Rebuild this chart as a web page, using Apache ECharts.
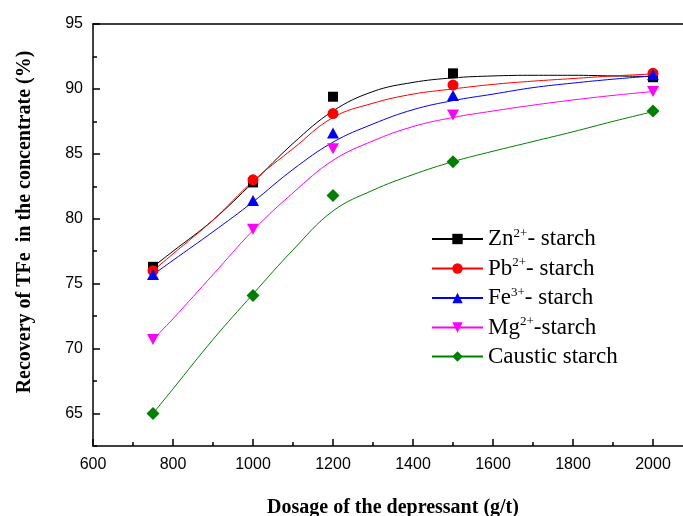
<!DOCTYPE html>
<html>
<head>
<meta charset="utf-8">
<script src="https://cdn.jsdelivr.net/npm/echarts@6/dist/echarts.min.js"></script>
<style>
html,body{margin:0;padding:0;background:#fff;}
#chart{width:683px;height:516px;}
</style>
</head>
<body>
<div id="chart"></div>
<script>
// ---- measured points ----
const dosage = [750, 1000, 1200, 1500, 2000];
const znStarch = [76.3, 82.8, 89.4, 91.2, 90.9];
const pbStarch = [76.0, 83.0, 88.1, 90.3, 91.2];
const feStarch = [75.7, 81.4, 86.6, 89.5, 91.1];
const mgStarch = [70.7, 79.2, 85.4, 88.0, 89.8];
const causticStarch = [65.0, 74.1, 81.8, 84.4, 88.3];

// ---- fitted curves ----
const fitDosage = [750, 800, 900, 1000, 1100, 1200, 1300, 1400, 1500, 1600, 1700, 1800, 1900, 2000];
const znFit = [76.3, 77.5, 79.9, 82.8, 85.8, 88.3, 89.8, 90.5, 90.85, 91.0, 91.05, 91.05, 91.0, 90.95];
const pbFit = [76.0, 77.3, 79.9, 82.9, 85.4, 87.8, 88.9, 89.6, 90.0, 90.35, 90.6, 90.8, 91.0, 91.15];
const feFit = [75.7, 76.8, 79.0, 81.3, 83.8, 85.9, 87.3, 88.4, 89.1, 89.6, 90.1, 90.45, 90.75, 91.0];
const mgFit = [70.7, 72.3, 75.7, 79.1, 82.0, 84.5, 86.0, 87.1, 87.8, 88.3, 88.75, 89.15, 89.5, 89.8];
const causticFit = [65.0, 66.9, 70.7, 74.2, 77.6, 80.6, 82.2, 83.4, 84.4, 85.2, 85.95, 86.7, 87.5, 88.25];

// ---- axis ticks ----
const xTickLabels = [600, 800, 1000, 1200, 1400, 1600, 1800, 2000];
const yTickLabels = [65, 70, 75, 80, 85, 90, 95];

// ---- series labels ----
const seriesNames = ['Zn2+- starch', 'Pb2+- starch', 'Fe3+- starch', 'Mg2+-starch', 'Caustic starch'];
const labelBase = ['Zn', 'Pb', 'Fe', 'Mg', 'Caustic starch'];
const labelSup = ['2+', '2+', '3+', '2+', ''];
const labelTail = ['- starch', '- starch', '- starch', '-starch', ''];

const colors = ['#000000', '#ff0000', '#0000ff', '#ff00ff', '#008000'];
const symbols = ['rect', 'circle', 'triangle', 'triangle', 'diamond'];
const symbolRot = [0, 0, 0, 180, 0];
const symbolSizes = [10, 11, [12, 11], [12, 11], 13];

const pointSets = [znStarch, pbStarch, feStarch, mgStarch, causticStarch];
const fitSets = [znFit, pbFit, feFit, mgFit, causticFit];

const series = [];
seriesNames.forEach((name, k) => {
  series.push({
    name: name,
    type: 'line',
    smooth: 0.4,
    showSymbol: false,
    symbol: symbols[k],
    symbolRotate: symbolRot[k],
    data: fitDosage.map((x, i) => [x, fitSets[k][i]]),
    lineStyle: { color: colors[k], width: 1 },
    itemStyle: { color: colors[k] },
    emphasis: { disabled: true },
    z: 2
  });
});
seriesNames.forEach((name, k) => {
  series.push({
    name: name,
    type: 'scatter',
    symbol: symbols[k],
    symbolRotate: symbolRot[k],
    symbolSize: symbolSizes[k],
    data: dosage.map((x, i) => [x, pointSets[k][i]]),
    itemStyle: { color: colors[k], opacity: 1 },
    emphasis: { disabled: true },
    z: 3
  });
});

const serif = 'Liberation Serif';
const sans = 'Liberation Sans';
const plain = v => String(v);

const option = {
  animation: false,
  backgroundColor: '#ffffff',
  grid: { left: 93, width: 600, top: 24, bottom: 70, containLabel: false, outerBoundsMode: 'none' },
  legend: {
    orient: 'vertical',
    left: 426,
    top: 222,
    padding: 5,
    itemWidth: 51,
    itemHeight: 13,
    itemGap: 6,
    data: seriesNames,
    selectedMode: false,
    formatter: function (name) {
      const k = seriesNames.indexOf(name);
      let s = '{n|' + labelBase[k] + '}';
      if (labelSup[k]) s += '{s|' + labelSup[k] + '}';
      if (labelTail[k]) s += '{n|' + labelTail[k] + '}';
      return s;
    },
    textStyle: {
      padding: [0, 0, 0, 0],
      rich: {
        n: { fontSize: 23, fontFamily: serif, color: '#000', lineHeight: 24 },
        s: { fontSize: 13, fontFamily: serif, color: '#000', lineHeight: 13, verticalAlign: 'top' }
      }
    }
  },
  xAxis: [
    {
      type: 'value', min: 600, max: 2100, interval: 200, position: 'bottom',
      axisLine: { onZero: false, lineStyle: { color: '#000', width: 1.5 } },
      axisTick: { inside: true, length: 7, customValues: xTickLabels, lineStyle: { color: '#000', width: 1.5 } },
      axisLabel: { customValues: xTickLabels, formatter: plain, fontSize: 16, color: '#000', fontFamily: sans, margin: 11 },
      splitLine: { show: false },
      name: 'Dosage of the depressant (g/t)',
      nameLocation: 'middle',
      nameGap: 52,
      nameTextStyle: { fontSize: 20, fontWeight: 'bold', fontFamily: serif, color: '#000' }
    },
    {
      type: 'value', min: 600, max: 2100, interval: 100, position: 'bottom',
      axisLine: { show: false, onZero: false },
      axisTick: { inside: true, length: 4, lineStyle: { color: '#000', width: 1.5 } },
      axisLabel: { show: false },
      splitLine: { show: false }
    },
    {
      type: 'value', min: 600, max: 2100, position: 'top',
      axisLine: { show: true, onZero: false, lineStyle: { color: '#000', width: 1.5 } },
      axisTick: { show: false },
      axisLabel: { show: false },
      splitLine: { show: false }
    }
  ],
  yAxis: [
    {
      type: 'value', min: 62.5, max: 95, position: 'left',
      axisLine: { show: true, onZero: false, lineStyle: { color: '#000', width: 1.5 } },
      axisTick: { inside: true, length: 7, customValues: yTickLabels, lineStyle: { color: '#000', width: 1.5 } },
      axisLabel: { customValues: yTickLabels, formatter: plain, fontSize: 16, color: '#000', fontFamily: sans, margin: 10 },
      splitLine: { show: false },
      name: 'Recovery of TFe  in the concentrate (%)',
      nameLocation: 'middle',
      nameRotate: 90,
      nameGap: 58,
      nameTextStyle: { fontSize: 20, fontWeight: 'bold', fontFamily: serif, color: '#000', padding: [0, 0, 0, 26] }
    },
    {
      type: 'value', min: 62.5, max: 95, interval: 2.5, position: 'left',
      axisLine: { show: false, onZero: false },
      axisTick: { inside: true, length: 4, lineStyle: { color: '#000', width: 1.5 } },
      axisLabel: { show: false },
      splitLine: { show: false }
    }
  ],
  series: series
};

const chart = echarts.init(document.getElementById('chart'), null, { renderer: 'canvas' });
chart.setOption(option);
</script>
</body>
</html>
